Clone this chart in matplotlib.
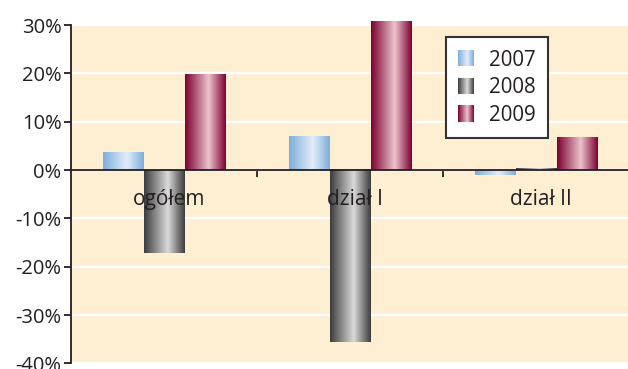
import numpy as np
import matplotlib
matplotlib.use("Agg")
import matplotlib.pyplot as plt
from matplotlib.colors import LinearSegmentedColormap
from matplotlib.patches import Rectangle
from matplotlib.legend_handler import HandlerBase
from matplotlib.image import BboxImage
from matplotlib.transforms import Bbox, TransformedBbox
from matplotlib.ticker import FuncFormatter

plt.rcParams['font.family'] = ['Open Sans', 'DejaVu Sans']

categories = ["ogółem", "dział I", "dział II"]
years = ["2007", "2008", "2009"]
v2007 = [3.7, 7.0, -1.0]
v2008 = [-17.1, -35.6, 0.4]
v2009 = [19.7, 30.8, 6.8]
series = [v2007, v2008, v2009]

edge_cols = ["#7DAEDB", "#3C3C3C", "#7C0031"]
mid_cols = ["#E2EDF8", "#DADADA", "#EBC3CB"]
txt = "#231F20"
bg = "#FEEFD3"

cmaps = [LinearSegmentedColormap.from_list(f"g{i}", [(0, e), (0.58, m), (1, e)])
         for i, (e, m) in enumerate(zip(edge_cols, mid_cols))]
grad = np.linspace(0, 1, 256).reshape(1, -1)

fig = plt.figure(figsize=(6.28, 3.69), dpi=100)
ax = fig.add_axes([0.1135, 0.015, 0.889, 0.917])
ax.set_facecolor(bg)
ax.set_xlim(-0.5, 2.5)
ax.set_ylim(-40, 30)

ax.set_yticks(np.arange(-40, 31, 10))
ax.yaxis.set_major_formatter(FuncFormatter(lambda v, p: f"{int(v)}%"))
ax.grid(axis='y', color='white', linewidth=1.6)
ax.set_axisbelow(True)

w = 0.22
x = np.arange(len(categories))
for i, vals in enumerate(series):
    bars = ax.bar(x + (i - 1) * w, vals, width=w, color=edge_cols[i], linewidth=0,
                  zorder=2, clip_on=False)
    for b in bars:
        x0, y0 = b.get_x(), b.get_y()
        x1, y1 = x0 + b.get_width(), y0 + b.get_height()
        b.set_visible(False)
        im = ax.imshow(grad, cmap=cmaps[i], aspect='auto',
                       extent=(x0, x1, min(y0, y1), max(y0, y1)),
                       zorder=2, interpolation='bilinear')
        im.set_clip_on(False)

ax.set_xlim(-0.5, 2.5)
ax.set_ylim(-40, 30)

for s in ['top', 'right']:
    ax.spines[s].set_visible(False)
ax.spines['bottom'].set_position(('data', 0))
ax.spines['bottom'].set_color(txt)
ax.spines['bottom'].set_linewidth(1.3)
ax.spines['bottom'].set_zorder(3)
ax.spines['left'].set_color(txt)
ax.spines['left'].set_linewidth(1.3)
ax.set_xticks([0.5, 1.5])
ax.set_xticklabels([])
ax.tick_params(axis='x', direction='out', length=5, width=1.3, color=txt)
ax.tick_params(axis='y', direction='out', length=5, width=1.3, color=txt,
               labelsize=14.5, labelcolor=txt, pad=2)

for xi, c in zip(x, categories):
    ax.annotate(c, (xi, 0), xytext=(3.5, -21.5), textcoords='offset points',
                ha='center', va='center', fontsize=15, color=txt, zorder=4)


class GradHandler(HandlerBase):
    def __init__(self, cmap):
        super().__init__()
        self.cmap = cmap

    def create_artists(self, legend, orig_handle, xdescent, ydescent, width,
                       height, fontsize, trans):
        side = 16 * 72 / 100
        bb = Bbox.from_bounds(-xdescent + (width - side) / 2, -ydescent + (height - side) / 2,
                              side, side)
        img = BboxImage(TransformedBbox(bb, trans), cmap=self.cmap,
                        interpolation='bilinear')
        img.set_data(grad)
        return [img]


handles = [Rectangle((0, 0), 1, 1) for _ in years]
leg = ax.legend(handles, years, loc='upper left', bbox_to_anchor=(0.671, 0.964),
                fontsize=14.8, frameon=True, fancybox=False, framealpha=1,
                edgecolor='#333333', handlelength=0.8, handleheight=0.8,
                handletextpad=0.7, labelspacing=0.32, borderpad=0.6,
                borderaxespad=0,
                handler_map={h: GradHandler(cmaps[i]) for i, h in enumerate(handles)})
leg.get_frame().set_linewidth(1.5)
for t in leg.get_texts():
    t.set_color(txt)
leg.set_zorder(5)

fig.savefig("out.png", dpi=100, facecolor='white')
